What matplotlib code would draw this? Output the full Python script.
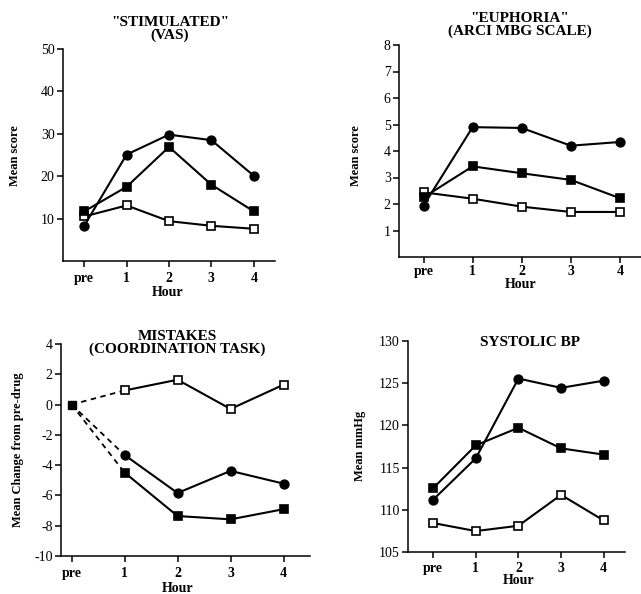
import matplotlib.pyplot as plt

plt.rcParams['font.family'] = ['Liberation Serif', 'DejaVu Serif']
plt.rcParams['axes.unicode_minus'] = False

hours = ['pre', '1', '2', '3', '4']
xpos = [0, 1, 2, 3, 4]

# "STIMULATED" (VAS)
stim_circle = [8.3, 25.1, 29.8, 28.5, 20.1]
stim_fsq = [11.7, 17.5, 26.9, 18.0, 11.7]
stim_osq = [10.5, 13.1, 9.4, 8.3, 7.6]

# "EUPHORIA" (ARCI MBG)
eup_circle = [1.94, 4.90, 4.87, 4.20, 4.34]
eup_fsq = [2.25, 3.42, 3.16, 2.91, 2.22]
eup_osq = [2.44, 2.20, 1.90, 1.70, 1.70]

# MISTAKES (coordination task)
mis_circle = [0, -3.33, -5.84, -4.38, -5.22]
mis_fsq = [0, -4.49, -7.36, -7.58, -6.91]
mis_osq = [0, 0.93, 1.64, -0.29, 1.31]

# SYSTOLIC BP
bp_circle = [111.2, 116.1, 125.55, 124.45, 125.3]
bp_fsq = [112.56, 117.64, 119.72, 117.28, 116.54]
bp_osq = [108.43, 107.48, 108.11, 111.77, 108.74]

W, H = 641, 594
fig = plt.figure(figsize=(W / 100, H / 100), dpi=100)


def px_axes(l, t, r, b):
    return fig.add_axes([l / W, 1 - b / H, (r - l) / W, (b - t) / H])


def style(ax, xlim, ylim, yticks, xpad=4):
    ax.set_xlim(*xlim)
    ax.set_ylim(*ylim)
    ax.set_yticks(yticks)
    ax.set_xticks(xpos)
    ax.set_xticklabels(hours, fontweight='bold', fontsize=10)
    for s in ['top', 'right']:
        ax.spines[s].set_visible(False)
    for s in ['left', 'bottom']:
        ax.spines[s].set_linewidth(1.1)
    ax.tick_params(direction='out', length=4, width=1.1, labelsize=10, pad=2)
    ax.tick_params(axis='x', pad=xpad)


mk = dict(color='black', lw=1.5, ms=6.2)


def series(ax, y, marker, face, x=xpos):
    ax.plot(x, y, marker=marker, mfc=face, mec='black', mew=1.2, zorder=3, **mk)


ax1 = px_axes(63, 49, 275, 261)
style(ax1, (-0.5, 4.5), (0, 50), [10, 20, 30, 40, 50])
series(ax1, stim_osq, 's', 'white')
series(ax1, stim_fsq, 's', 'black')
series(ax1, stim_circle, 'o', 'black')

ax2 = px_axes(399, 45, 641, 257)
style(ax2, (-0.5, 4.43), (0, 8), [1, 2, 3, 4, 5, 6, 7, 8], xpad=2)
series(ax2, eup_osq, 's', 'white')
series(ax2, eup_fsq, 's', 'black')
series(ax2, eup_circle, 'o', 'black')

ax3 = px_axes(61, 344, 310, 556)
style(ax3, (-0.2, 4.5), (-10, 4), [-10, -8, -6, -4, -2, 0, 2, 4])
for y, m, f in [(mis_osq, 's', 'white'), (mis_circle, 'o', 'black'), (mis_fsq, 's', 'black')]:
    ax3.plot(xpos[:2], y[:2], color='black', lw=1.3, ls=(0, (3, 2.5)), zorder=2)
    series(ax3, y[1:], m, f, x=xpos[1:])
ax3.plot([0], [mis_fsq[0]], 's', color='black', ms=6.2, zorder=4)

ax4 = px_axes(408, 341, 625, 552)
style(ax4, (-0.59, 4.5), (105, 130), [105, 110, 115, 120, 125, 130], xpad=3)
series(ax4, bp_osq, 's', 'white')
series(ax4, bp_fsq, 's', 'black')
series(ax4, bp_circle, 'o', 'black')


def ftext(x, y, s, **kw):
    fig.text(x / W, 1 - y / H, s, fontweight='bold', ha='center', va='center', **kw)


ftext(170, 29, '"STIMULATED"\n(VAS)', fontsize=11, linespacing=1.0)
ftext(520, 25, '"EUPHORIA"\n(ARCI MBG SCALE)', fontsize=11, linespacing=1.0)
ftext(177, 343, 'MISTAKES\n(COORDINATION TASK)', fontsize=11, linespacing=1.0)
ftext(530, 343, 'SYSTOLIC BP', fontsize=11)

ftext(168, 293, 'Hour', fontsize=10)
ftext(521, 285, 'Hour', fontsize=10)
ftext(178, 588, 'Hour', fontsize=10)
ftext(519, 581, 'Hour', fontsize=10)

ftext(15, 156, 'Mean score', fontsize=9, rotation=90)
ftext(356, 156, 'Mean score', fontsize=9, rotation=90)
ftext(18, 450, 'Mean Change from pre-drug', fontsize=9, rotation=90)
ftext(360, 446, 'Mean mmHg', fontsize=9, rotation=90)

fig.savefig('out.png', dpi=100)
